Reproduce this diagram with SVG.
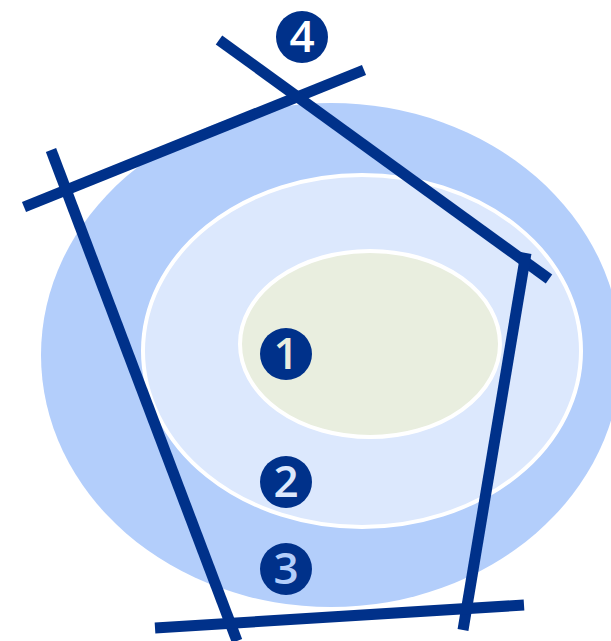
<svg xmlns="http://www.w3.org/2000/svg" width="611" height="641" viewBox="0 0 611 641">
<style>
.ln{stroke:#00318a;stroke-width:11;fill:none}
.badge{fill:#00318a}
.num{font-family:"Open Sans","Liberation Sans",sans-serif;font-weight:600;font-size:44px;text-anchor:middle}
</style>
<rect width="611" height="641" fill="#ffffff"/>
<g id="zone3"><ellipse cx="331" cy="355" rx="290" ry="252" fill="#b3cefb"/></g>
<g id="zone2"><ellipse cx="362" cy="351" rx="219" ry="176" fill="#dce8fd" stroke="#ffffff" stroke-width="4"/></g>
<g id="zone1"><ellipse cx="370" cy="344" rx="130" ry="93" fill="#e9eedf" stroke="#ffffff" stroke-width="4"/></g>
<g id="connectors">
<line class="ln" x1="24" y1="207" x2="364" y2="70"/>
<line class="ln" x1="219" y1="40" x2="549" y2="279"/>
<line class="ln" x1="51" y1="150" x2="237" y2="641"/>
<line class="ln" x1="526" y1="253" x2="463" y2="630"/>
<line class="ln" x1="155" y1="628" x2="524" y2="605"/>
</g>
<g id="badge4"><circle class="badge" cx="302" cy="37" r="26"/><text class="num" x="302" y="52" fill="#ffffff">4</text></g>
<g id="badge1"><circle class="badge" cx="286" cy="354" r="26"/><text class="num" x="286" y="369" fill="#e9eedf">1</text></g>
<g id="badge2"><circle class="badge" cx="286" cy="482" r="26"/><text class="num" x="286" y="497" fill="#dce8fd">2</text></g>
<g id="badge3"><circle class="badge" cx="286" cy="569" r="26"/><text class="num" x="286" y="584" fill="#b3cefb">3</text></g>
</svg>
